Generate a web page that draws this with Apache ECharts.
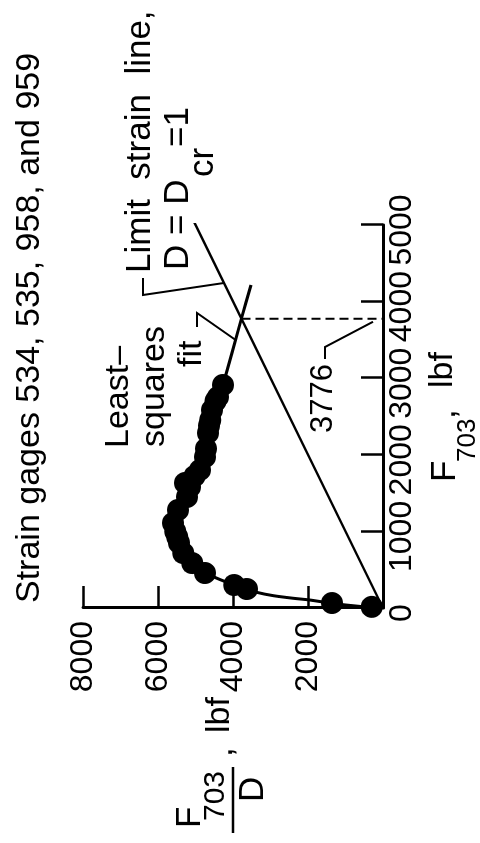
<!DOCTYPE html>
<html>
<head>
<meta charset="utf-8">
<script src="https://cdn.jsdelivr.net/npm/echarts@6/dist/echarts.min.js"></script>
<style>
  html, body { margin: 0; padding: 0; width: 480px; height: 843px; overflow: hidden; background: #fff; }
  /* the plot is laid out landscape and turned a quarter turn counter-clockwise */
  #chart { position: absolute; left: 0; top: 0; width: 843px; height: 480px;
           transform-origin: 0 0; transform: translate(0, 843px) rotate(-90deg); }
</style>
</head>
<body>
<div id="chart"></div>
<script>
// Axis ticks
const forceTicks = [0, 1000, 2000, 3000, 4000, 5000];      // F703, lbf
const ratioTicks = [0, 2000, 4000, 6000, 8000];            // F703 / D, lbf

// Strain gage readings: load F703 and F703/D
const gageForce = [15, 65, 248, 300, 457, 587, 718, 850, 927, 1000, 1110, 1279, 1449, 1580, 1632, 1720,
                   1802, 1971, 2080, 2285, 2380, 2454, 2585, 2700, 2755, 2911];
const gageRatio = [300, 1360, 3630, 3970, 4750, 5090, 5330, 5440, 5490, 5540, 5600, 5470, 5230, 5150, 5280, 5030,
                   4880, 4750, 4720, 4670, 4640, 4610, 4560, 4470, 4400, 4270];

// Least-squares fit curve
const fitForce = [0, 20, 61, 104, 127, 161, 205, 248, 300, 418, 587, 760, 927, 1110, 1280, 1450, 1600, 1800, 2060, 2500, 2911, 3776, 4217];
const fitRatio = [0, 600, 1368, 1947, 2392, 2925, 3368, 3635, 3970, 4560, 5100, 5350, 5480, 5530, 5430, 5250, 5130, 4890, 4700, 4530, 4267, 3776, 3520];

// Limit strain line D = Dcr = 1, i.e. F703/D = F703
const limitForce = [0, 5080];
// Crossing of the fit with the limit strain line
const crossForce = 3776;

const SANS = "'Liberation Sans', Arial, sans-serif";

const chart = echarts.init(document.getElementById('chart'), null, { renderer: 'canvas', width: 843, height: 480 });

const axisCommon = {
  type: 'value',
  axisLine: { show: true, lineStyle: { color: '#000', width: 3 } },
  axisTick: { show: true, inside: true, length: 22, lineStyle: { color: '#000', width: 2.5 } },
  splitLine: { show: false },
  axisLabel: { color: '#000', fontFamily: SANS, fontSize: 32, formatter: v => String(v) }
};

chart.setOption({
  animation: false,
  backgroundColor: '#fff',
  grid: { left: 235, right: 225, top: 83, bottom: 97 },
  xAxis: Object.assign({}, axisCommon, {
    min: forceTicks[0], max: forceTicks[forceTicks.length - 1], interval: forceTicks[1] - forceTicks[0],
    axisLabel: Object.assign({}, axisCommon.axisLabel, { margin: 3, padding: [0, 10, 0, 0] })
  }),
  yAxis: Object.assign({}, axisCommon, {
    min: ratioTicks[0], max: ratioTicks[ratioTicks.length - 1], interval: ratioTicks[1] - ratioTicks[0],
    axisLabel: Object.assign({}, axisCommon.axisLabel, { margin: 13, showMinLabel: false })
  }),
  series: [
    {
      type: 'line', name: 'fit', z: 2,
      data: fitForce.map((f, i) => [f, fitRatio[i]]),
      showSymbol: false, smooth: 0.25,
      lineStyle: { color: '#000', width: 3 }
    },
    {
      type: 'line', name: 'limit', z: 2,
      data: limitForce.map(f => [f, f]),
      showSymbol: false,
      lineStyle: { color: '#000', width: 2.5 }
    },
    {
      type: 'line', name: 'crossing', z: 2,
      data: [[crossForce, crossForce], [crossForce, 0]],
      showSymbol: false,
      lineStyle: { color: '#000', width: 2, type: [9, 5] }
    },
    {
      type: 'scatter', name: 'gages', z: 3,
      data: gageForce.map((f, i) => [f, gageRatio[i]]),
      symbol: 'circle', symbolSize: 22,
      itemStyle: { color: '#000', opacity: 1 }
    }
  ]
});

// value on the fit curve at a given load, for placing the leader
function fitAt(f) {
  for (let i = 1; i < fitForce.length; i++) {
    if (f <= fitForce[i]) {
      const t = (f - fitForce[i - 1]) / (fitForce[i] - fitForce[i - 1]);
      return fitRatio[i - 1] + t * (fitRatio[i] - fitRatio[i - 1]);
    }
  }
  return fitRatio[fitRatio.length - 1];
}

const px = p => chart.convertToPixel({ gridIndex: 0 }, p);
const limitEnd = px([4243, 4243]);
const fitEnd = px([3500, fitAt(3500)]);
const crossFoot = px([crossForce, 0]);

function txt(text, x, y, size) {
  return { type: 'text', x: x, y: y, z: 10,
    style: { text: text, fill: '#000', fontSize: size, fontFamily: SANS, align: 'left', verticalAlign: 'middle' } };
}
function leader(points) {
  return { type: 'polyline', z: 10, shape: { points: points },
    style: { stroke: '#000', lineWidth: 2, fill: null } };
}

chart.setOption({
  graphic: [
    txt('Strain gages 534, 535, 958, and 959', 240, 30, 34),

    txt('Limit  strain  line,', 570, 140, 35),
    txt('D = D', 573, 178, 35),
    txt('cr', 666, 203, 35),
    txt('=1', 696, 178, 35),
    leader([[565, 143], [548, 143], limitEnd]),

    txt('Least\u2013', 395, 119, 34),
    txt('squares', 396, 155, 34),
    txt('fit', 476, 192, 34),
    leader([[516, 197], [530, 197], fitEnd]),

    txt(String(crossForce), 410, 323, 31),
    leader([[484, 325], [496, 325], [crossFoot[0] - 3, crossFoot[1] - 10]]),

    // abscissa title: F703, lbf
    txt('F', 361, 445, 35),
    txt('703', 381, 468, 26),
    txt(',', 424, 445, 35),
    txt('lbf', 455, 443, 34),

    // ordinate title: F703 / D, lbf
    txt('F', 15, 190, 35),
    txt('703', 22, 216, 30),
    { type: 'line', z: 10, shape: { x1: 10, y1: 233, x2: 76, y2: 233 }, style: { stroke: '#000', lineWidth: 2.5 } },
    txt('D', 41, 253, 35),
    txt(',', 86, 222, 35),
    txt('lbf', 110, 220, 34)
  ]
});
</script>
</body>
</html>
